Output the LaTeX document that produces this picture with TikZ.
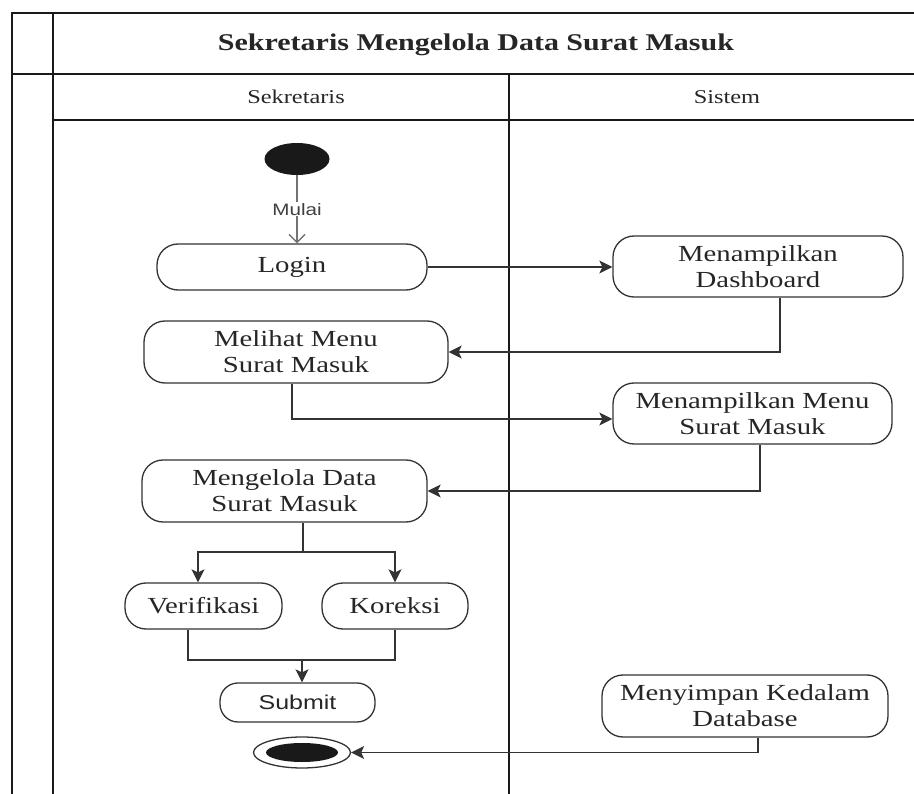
\documentclass[tikz,border=0pt]{standalone}
\usepackage{fontspec}
\setmainfont[FakeStretch=1.25]{Liberation Serif}
\setsansfont[FakeStretch=1.25]{Liberation Sans}
\usetikzlibrary{shapes.geometric,arrows.meta}
\begin{document}
\begin{tikzpicture}[x=1pt,y=-1pt,
  act/.style={draw=black!80,line width=1.3pt,rounded corners=21pt,align=center,inner sep=0pt,
    font=\fontsize{23}{26}\selectfont,text=black!85},
  alur/.style={-{Stealth[length=13pt,width=13pt,inset=3pt]},line width=1.4pt,draw=black!80},
  sambung/.style={line width=1.4pt,draw=black!80},
  garis/.style={line width=1.8pt,draw=black!90}]
\useasboundingbox (0,0) rectangle (914,794);
\draw[garis] (914,12.7) -- (12,12.7) -- (12,794);
\draw[garis] (53,12.7) -- (53,794);
\draw[garis] (12,74) -- (914,74);
\draw[garis] (53,120) -- (914,120);
\draw[garis] (509,74) -- (509,794);
\node[font=\bfseries\fontsize{24}{26}\selectfont,text=black!85] (judul) at (476,45) {Sekretaris Mengelola Data Surat Masuk};
\node[font=\fontsize{19.5}{22}\selectfont,text=black!85] (lajur1) at (296,97) {Sekretaris};
\node[font=\fontsize{19.5}{22}\selectfont,text=black!85] (lajur2) at (727,97) {Sistem};
\node[ellipse,fill=black!90,minimum width=65pt,minimum height=32pt,inner sep=0pt] (mulai) at (297,159) {};
\node[act,minimum width=270pt,minimum height=46pt] (login) at (292,267) {Login};
\node[act,minimum width=290pt,minimum height=61pt] (dash) at (758,266.5) {Menampilkan\\Dashboard};
\node[act,minimum width=304pt,minimum height=62pt] (melihat) at (296,352) {Melihat Menu\\Surat Masuk};
\node[act,minimum width=279pt,minimum height=61pt] (menu) at (752.5,413.5) {Menampilkan Menu\\Surat Masuk};
\node[act,minimum width=285pt,minimum height=62pt] (kelola) at (284.5,491) {Mengelola Data\\Surat Masuk};
\node[act,minimum width=157pt,minimum height=46pt] (verif) at (203.5,606) {Verifikasi};
\node[act,minimum width=146pt,minimum height=46pt] (koreksi) at (395,606) {Koreksi};
\node[act,minimum width=155pt,minimum height=39pt,rounded corners=18pt,font=\sffamily\fontsize{20}{22}\selectfont] (submit) at (297.5,702.5) {Submit};
\node[act,minimum width=286pt,minimum height=62pt] (simpan) at (745,706) {Menyimpan Kedalam\\Database};
\node[ellipse,draw=black!80,line width=1.3pt,minimum width=97pt,minimum height=31pt,inner sep=0pt] (akhir) at (302,752.5) {};
\fill[black!90] (akhir) ellipse (36 and 9.5);
\coordinate (cabang) at (303,552);
\coordinate (gabung) at (302,660);
\draw[-{Straight Barb[length=8pt,width=16pt]},line width=1.4pt,draw=black!55] (mulai) -- (mulai |- login.north)
  node[midway,fill=white,inner sep=1pt,text=black!75,font=\sffamily\fontsize{16.5}{18}\selectfont] {Mulai};
\draw[alur] (login.east) -- (login.east -| dash.west);
\draw[alur] ([xshift=22pt]dash.south) |- (melihat.east);
\draw[alur] ([xshift=-4pt]melihat.south) |- ([yshift=-5.5pt]menu.west);
\draw[alur] ([xshift=7.5pt]menu.south) |- (kelola.east);
\draw[sambung] (kelola.south -| cabang) -- (cabang);
\draw[alur] (cabang) -| ([xshift=-5.5pt]verif.north);
\draw[alur] (cabang) -| (koreksi.north);
\draw[sambung] ([xshift=-15.5pt]verif.south) |- (gabung);
\draw[sambung] (koreksi.south) |- (gabung);
\draw[alur] (gabung) -- (gabung |- submit.north);
\draw[alur] ([xshift=13pt]simpan.south) |- (akhir.east);
\end{tikzpicture}
\end{document}
